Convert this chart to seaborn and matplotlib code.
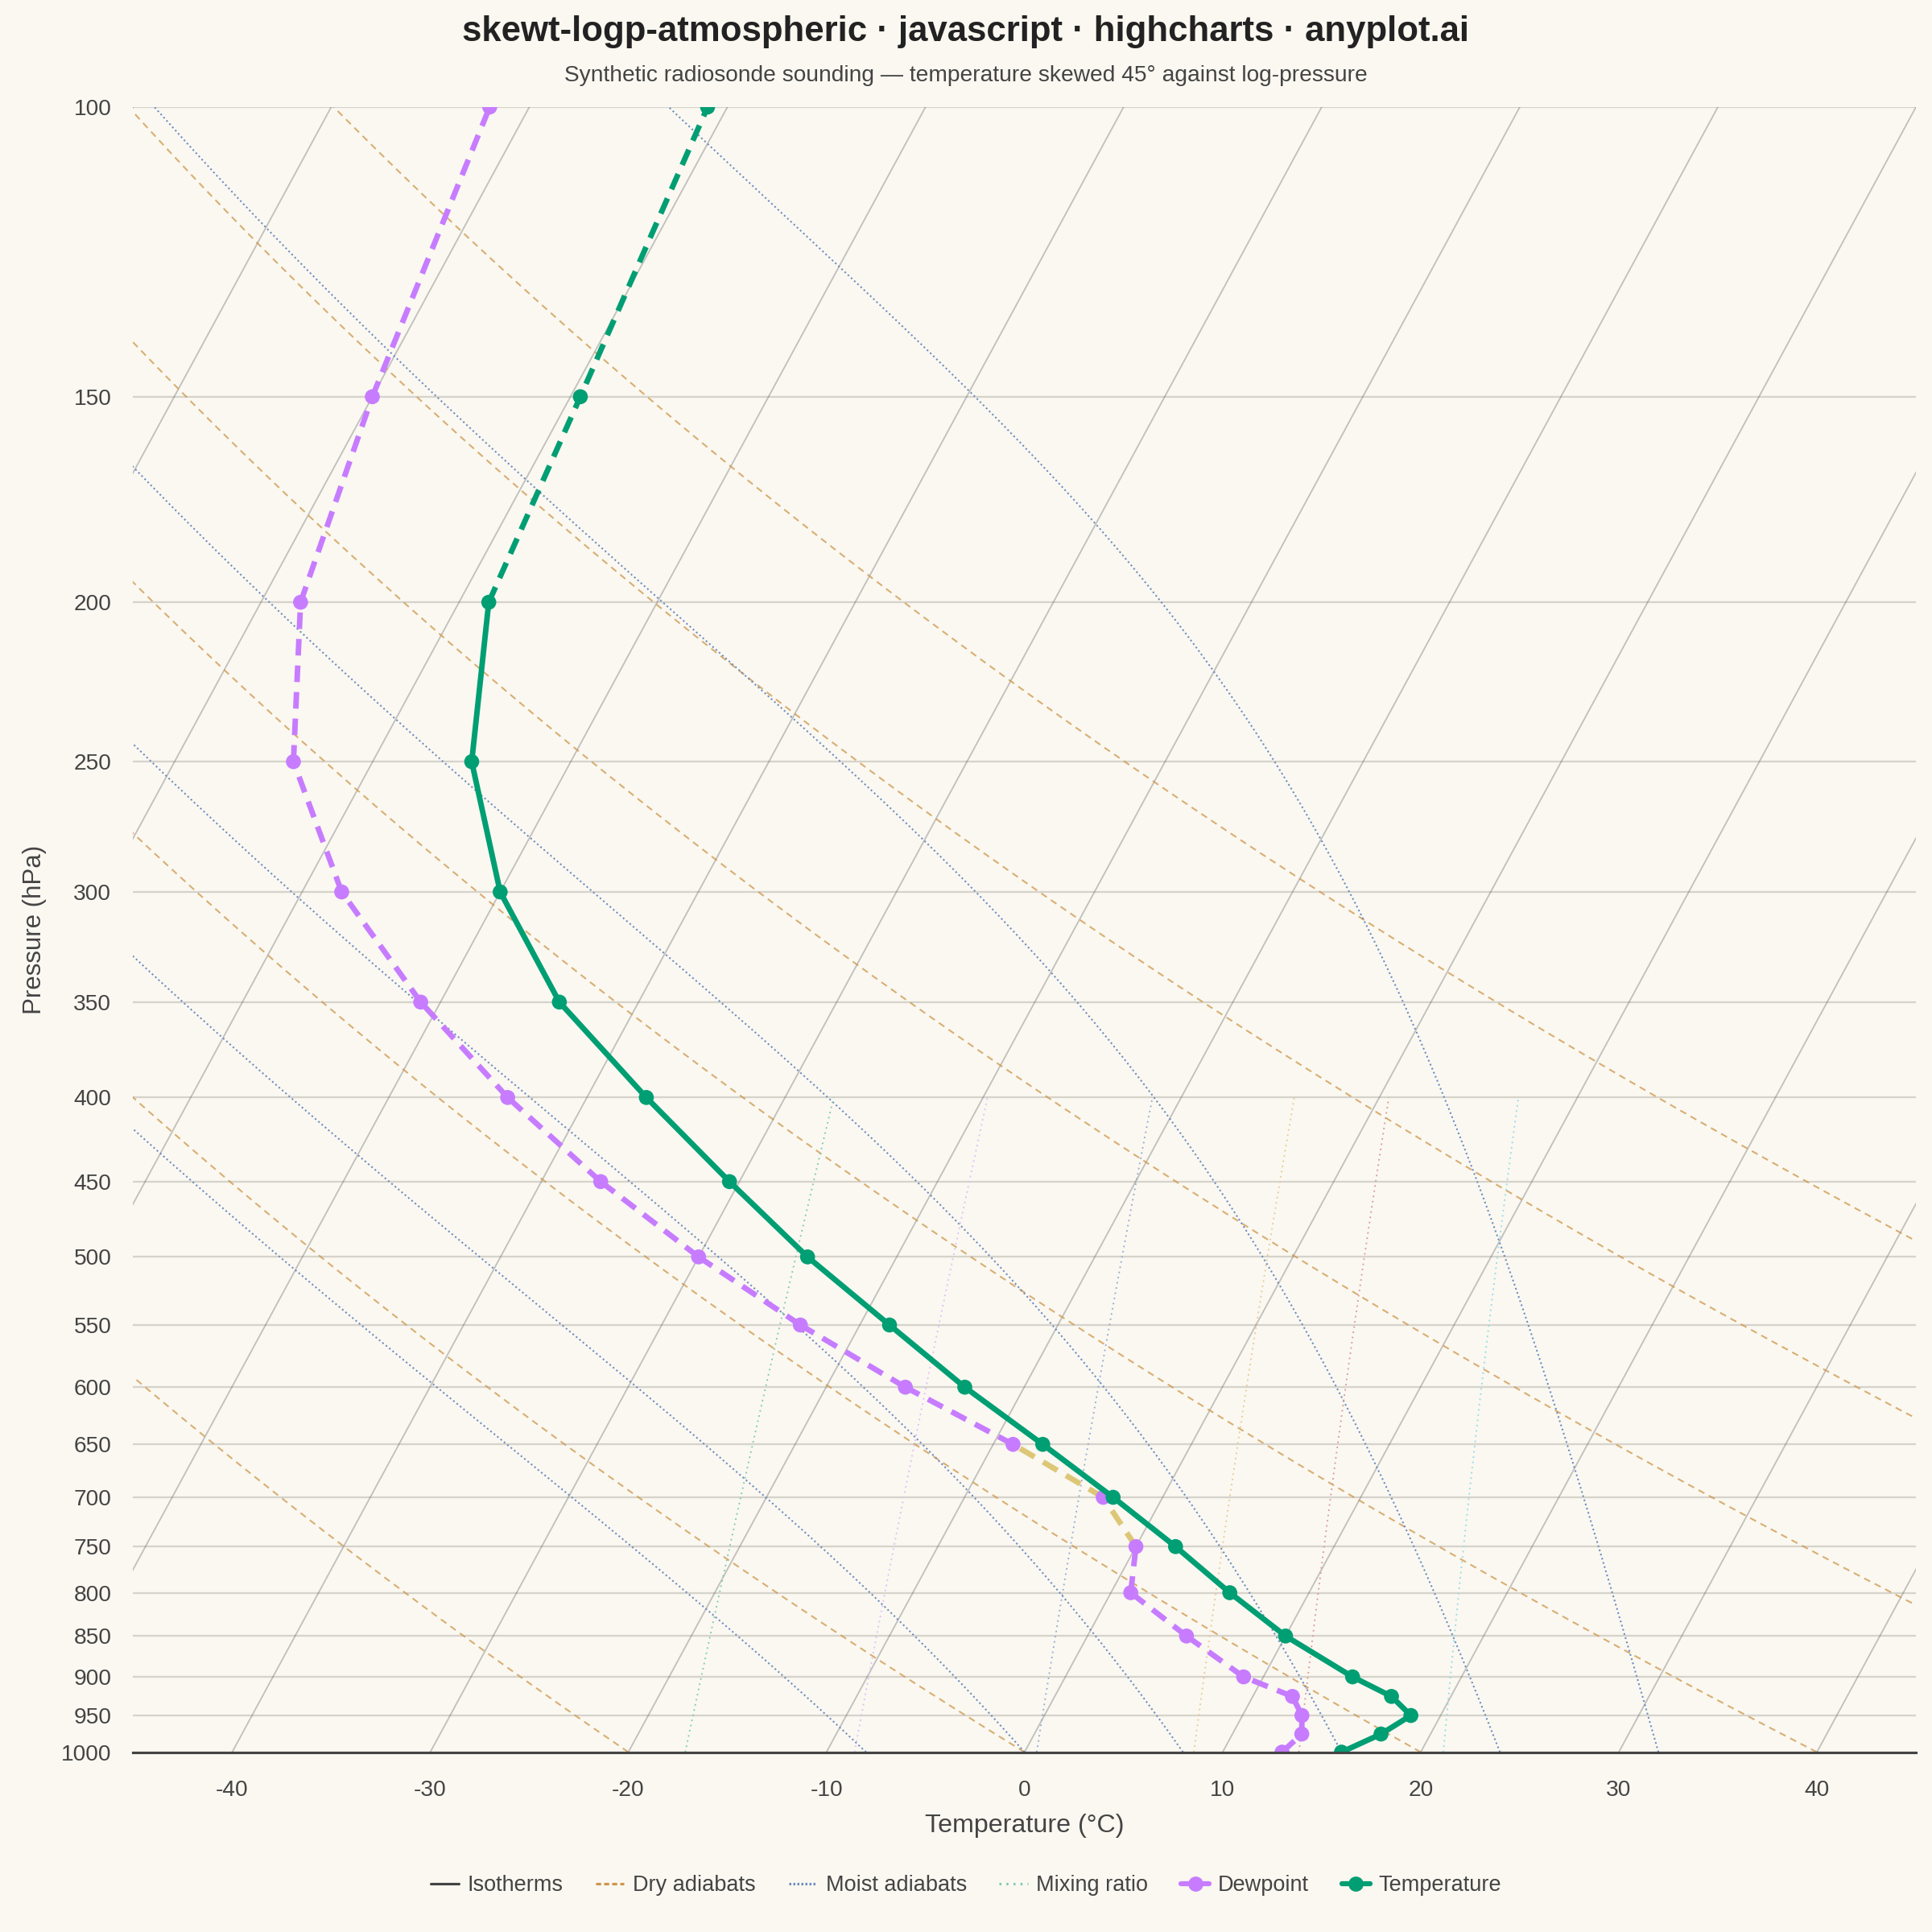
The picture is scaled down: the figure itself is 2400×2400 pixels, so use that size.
import numpy as np
import pandas as pd
import matplotlib
matplotlib.use("Agg")
import matplotlib.pyplot as plt
from matplotlib.lines import Line2D
from matplotlib.ticker import FixedLocator, FixedFormatter, NullLocator
import seaborn as sns

# ---------------- data ----------------
pressure_hpa = [1000, 975, 950, 925, 900, 850, 800, 750, 700, 650, 600, 550,
                500, 450, 400, 350, 300, 250, 200, 150, 100]
temperature_c = [16.0, 17.5, 18.5, 17.0, 14.5, 10.0, 6.0, 2.0, -2.5, -7.5, -13.0,
                 -18.5, -24.5, -30.5, -37.0, -44.0, -50.0, -55.0, -58.5, -59.5, -61.0]
dewpoint_c = [13.0, 13.5, 13.0, 12.0, 9.0, 5.0, 1.0, 0.0, -3.0, -9.0, -16.0,
              -23.0, -30.0, -37.0, -44.0, -51.0, -58.0, -64.0, -68.0, -70.0, -72.0]

pressure_ticks = [100, 150, 200, 250, 300, 350, 400, 450, 500, 550, 600, 650,
                  700, 750, 800, 850, 900, 950, 1000]
temperature_ticks = [-40, -30, -20, -10, 0, 10, 20, 30, 40]

isotherm_temps_c = list(range(-130, 50, 10))
dry_adiabat_theta_c = [-20, 0, 20, 40, 60, 80, 100]
moist_adiabat_start_c = [-8, 0, 8, 16, 24, 32]
mixing_ratio_gkg = [1, 2, 4, 7, 10, 16]
mixing_ratio_colors = ["#7fcab3", "#e2bdfc", "#95abd3", "#ecc995", "#dc9a9a", "#98dbe8"]

SKEW = 45.0
X_RANGE = (-45, 45)
P_BOTTOM, P_TOP = 1000, 100

# ---------------- helpers ----------------
def skew_x(t, p):
    return np.asarray(t, float) + SKEW * np.log10(1000.0 / np.asarray(p, float))


def moist_profile(t0_c, p_start=1000.0, p_end=100.0, dp=5.0):
    """Pseudo-adiabat integrated upward with simple Euler steps."""
    Rd, Cp, Lv, eps = 287.04, 1005.7, 2.501e6, 0.622
    T = t0_c + 273.15
    ps, ts = [p_start], [T]
    p = p_start
    while p > p_end + 1e-9:
        tc = T - 273.15
        es = 6.112 * np.exp(17.67 * tc / (tc + 243.5))
        rs = eps * es / (p - es)
        dTdp = (Rd * T + Lv * rs) / (p * (Cp + Lv * Lv * rs * eps / (Rd * T * T)))
        T = T - dTdp * dp
        p = p - dp
        ps.append(p)
        ts.append(T)
    return np.array(ps), np.array(ts) - 273.15


def mixing_ratio_dewpoint(w, p):
    e = w * p / (622.0 + w)
    ln = np.log(e / 6.112)
    return 243.5 * ln / (17.67 - ln)


# ---------------- style ----------------
BG = "#faf8f1"
TEXT = "#333333"
sns.set_theme(style="white")
plt.rcParams.update({
    "font.family": ["Liberation Sans", "DejaVu Sans"],
    "figure.facecolor": BG,
    "axes.facecolor": BG,
    "savefig.facecolor": BG,
    "text.color": TEXT,
    "axes.labelcolor": TEXT,
    "xtick.color": "#444444",
    "ytick.color": "#444444",
})

fig = plt.figure(figsize=(16, 16), dpi=150)
AX_L, AX_B, AX_W, AX_H = 0.0689, 0.0931, 0.9228, 0.8515
ax = fig.add_axes([AX_L, AX_B, AX_W, AX_H])
ax.set_yscale("log")

p_fine = np.geomspace(P_BOTTOM, P_TOP, 300)

# isotherms
for t in isotherm_temps_c:
    ax.plot(skew_x(np.full_like(p_fine, t), p_fine), p_fine, color="#5a5a5a",
            alpha=0.35, lw=0.9, zorder=1)

# dry adiabats
for th in dry_adiabat_theta_c:
    tk = (th + 273.15) * (p_fine / 1000.0) ** 0.2857 - 273.15
    ax.plot(skew_x(tk, p_fine), p_fine, color="#cf9548", alpha=0.75, lw=1.0,
            linestyle=(0, (4, 3)), zorder=2)

# moist adiabats
for t0 in moist_adiabat_start_c:
    pm, tm = moist_profile(t0)
    ax.plot(skew_x(tm, pm), pm, color="#6f8cc0", lw=1.0,
            linestyle=(0, (1, 1.6)), zorder=2)

# mixing ratio lines
p_mix = np.geomspace(1000, 400, 100)
for w, c in zip(mixing_ratio_gkg, mixing_ratio_colors):
    td = mixing_ratio_dewpoint(w, p_mix)
    ax.plot(skew_x(td, p_mix), p_mix, color=c, lw=0.9,
            linestyle=(0, (1, 2.5)), zorder=2)

# ---------------- sounding ----------------
df = pd.DataFrame({"p": pressure_hpa, "T": temperature_c, "Td": dewpoint_c})
df["xT"] = skew_x(df["T"], df["p"])
df["xTd"] = skew_x(df["Td"], df["p"])

GREEN = "#009e73"
PURPLE = "#c77cff"
SAT = "#ddc777"

# dewpoint: dashed, near-saturated segments highlighted
spread = (df["T"] - df["Td"]).to_numpy()
for i in range(len(df) - 1):
    seg = df.iloc[i:i + 2]
    col = SAT if (spread[i] <= 2.0 and spread[i + 1] <= 2.0) else PURPLE
    sns.lineplot(data=seg, x="xTd", y="p", sort=False, estimator=None, ax=ax,
                 color=col, lw=3.3, linestyle=(0, (3, 1.8)), zorder=5,
                 legend=False)
sns.scatterplot(data=df, x="xTd", y="p", ax=ax, color=PURPLE, s=80,
                edgecolor="none", zorder=6, legend=False)

# temperature: solid below 200 hPa, dashed above
low = df[df["p"] >= 200]
high = df[df["p"] <= 200]
sns.lineplot(data=low, x="xT", y="p", sort=False, estimator=None, ax=ax,
             color=GREEN, lw=3.3, zorder=7, legend=False)
sns.lineplot(data=high, x="xT", y="p", sort=False, estimator=None, ax=ax,
             color=GREEN, lw=3.3, linestyle=(0, (3, 1.8)), zorder=7, legend=False)
sns.scatterplot(data=df, x="xT", y="p", ax=ax, color=GREEN, s=80,
                edgecolor="none", zorder=8, legend=False)

# ---------------- axes ----------------
ax.set_xlim(*X_RANGE)
ax.set_ylim(P_BOTTOM, P_TOP)
ax.yaxis.set_major_locator(FixedLocator(pressure_ticks))
ax.yaxis.set_major_formatter(FixedFormatter([str(v) for v in pressure_ticks]))
ax.yaxis.set_minor_locator(NullLocator())
ax.set_xticks(temperature_ticks)
ax.set_xticklabels([str(v) for v in temperature_ticks])
ax.grid(axis="y", color="#d6d3cb", lw=1.1, zorder=0)
ax.grid(axis="x", visible=False)
for side in ["top", "right", "left"]:
    ax.spines[side].set_visible(False)
ax.spines["bottom"].set_color("#444444")
ax.spines["bottom"].set_linewidth(1.5)
ax.spines["bottom"].set_zorder(9)
ax.tick_params(axis="y", length=0, pad=13, labelsize=13.5)
ax.tick_params(axis="x", length=8.5, width=1.0, color="#444444", pad=8, labelsize=13.5)
ax.set_xlabel("")
ax.set_ylabel("")

fig.text(0.5, 1 - 40 / 2400, "skewt-logp-atmospheric · javascript · highcharts · anyplot.ai",
         ha="center", va="center", fontsize=21, fontweight="bold", color="#222222")
fig.text(0.5, 1 - 94 / 2400, "Synthetic radiosonde sounding — temperature skewed 45° against log-pressure",
         ha="center", va="center", fontsize=13.5, color="#444444")
fig.text(AX_L + AX_W / 2, 1 - 2268 / 2400, "Temperature (°C)", ha="center", va="center",
         fontsize=15.5, color="#444444")
fig.text(0.018, AX_B + AX_H / 2, "Pressure (hPa)", ha="center", va="center",
         rotation=90, fontsize=15, color="#444444")

handles = [
    Line2D([], [], color="#444444", lw=1.5),
    Line2D([], [], color="#cf9548", lw=1.5, linestyle=(0, (2, 1.2))),
    Line2D([], [], color="#6f8cc0", lw=1.5, linestyle=(0, (0.8, 0.8))),
    Line2D([], [], color="#7fcab3", lw=1.5, linestyle=(0, (0.8, 2))),
    Line2D([], [], color=PURPLE, lw=3, marker="o", markersize=8),
    Line2D([], [], color=GREEN, lw=3, marker="o", markersize=8),
]
labels = ["Isotherms", "Dry adiabats", "Moist adiabats", "Mixing ratio", "Dewpoint", "Temperature"]
fig.legend(handles, labels, loc="center", bbox_to_anchor=(0.5, 0.024), ncol=6,
           frameon=False, fontsize=13, handlelength=1.3, handletextpad=0.4,
           columnspacing=1.5, labelcolor="#444444")

fig.savefig("out.png", dpi=150)
